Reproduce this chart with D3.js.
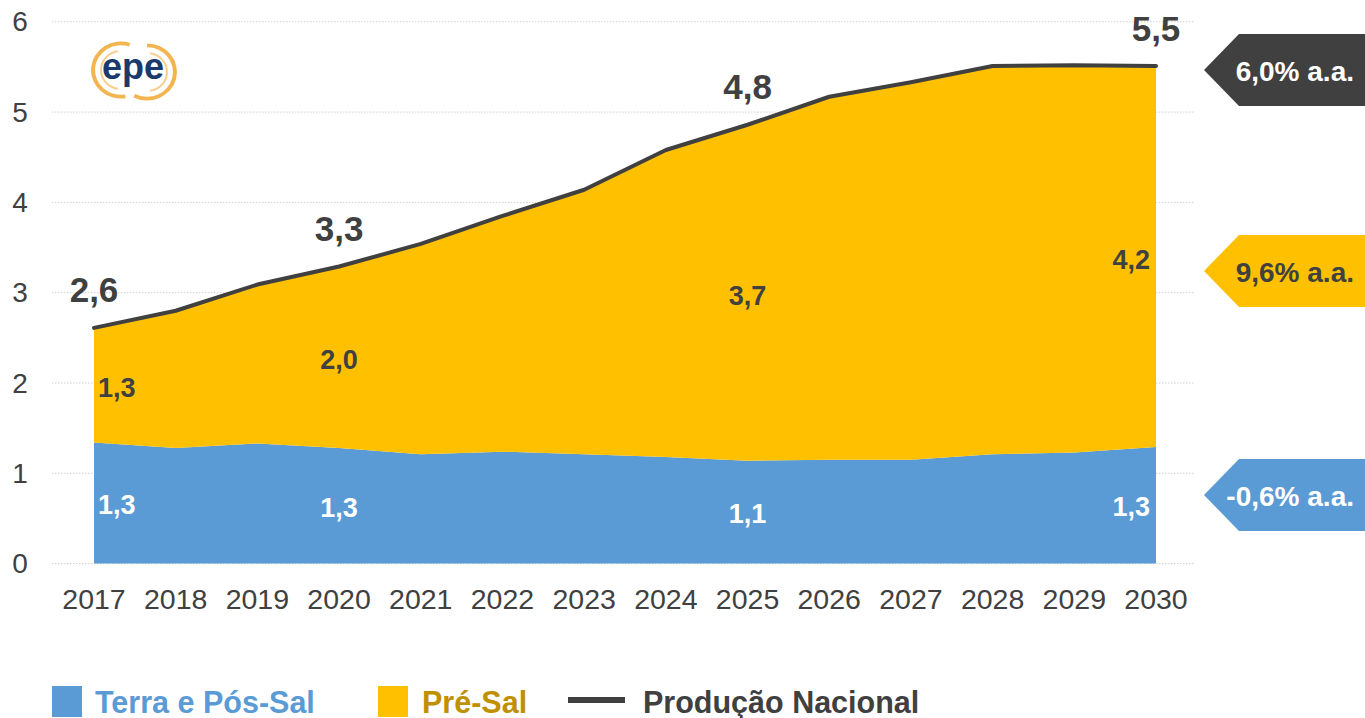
<!DOCTYPE html>
<html>
<head>
<meta charset="utf-8">
<script src="https://cdn.jsdelivr.net/npm/d3@7"></script>
<style>
  body { margin: 0; background: #fff; }
  text { font-family: "Liberation Sans", Arial, sans-serif; }
</style>
</head>
<body>
<div id="grafico"></div>
<script>
// dados (milhões de barris/dia)
const anos = [2017, 2018, 2019, 2020, 2021, 2022, 2023, 2024, 2025, 2026, 2027, 2028, 2029, 2030];
const terraPosSal = [1.34, 1.28, 1.33, 1.28, 1.21, 1.24, 1.21, 1.18, 1.14, 1.15, 1.15, 1.21, 1.23, 1.29];
const preSal = [1.27, 1.52, 1.76, 2.01, 2.33, 2.61, 2.93, 3.40, 3.72, 4.02, 4.18, 4.30, 4.29, 4.22];
const anosRotulo = [2017, 2020, 2025, 2030];
const rotTotal = ["2,6", "3,3", "4,8", "5,5"];
const rotTerra = ["1,3", "1,3", "1,1", "1,3"];
const rotPre = ["1,3", "2,0", "3,7", "4,2"];
const taxas = ["6,0% a.a.", "9,6% a.a.", "-0,6% a.a."];
const legenda = ["Terra e Pós-Sal", "Pré-Sal", "Produção Nacional"];
const yTicks = [0, 1, 2, 3, 4, 5, 6];

const largura = 1365, altura = 718;
const azul = "#5B9BD5", amarelo = "#FFC000", cinza = "#404040";

const svg = d3.select("#grafico").append("svg")
  .attr("width", largura).attr("height", altura);

const x = d3.scalePoint().domain(anos).range([94, 1156]);
const y = d3.scaleLinear().domain([0, 6]).range([563.6, 21.8]);

// grade pontilhada
svg.append("g").selectAll("line").data(yTicks).join("line")
  .attr("x1", 52).attr("x2", 1195)
  .attr("y1", d => y(d)).attr("y2", d => y(d))
  .attr("stroke", "#d0d0d0").attr("stroke-width", 1)
  .attr("stroke-dasharray", "1.5,1.5");

// eixo y
svg.append("g").selectAll("text").data(yTicks).join("text")
  .attr("x", 20).attr("y", d => y(d))
  .attr("text-anchor", "middle").attr("dominant-baseline", "central")
  .attr("font-size", 28).attr("fill", cinza)
  .text(d => d);

// eixo x
svg.append("g").selectAll("text").data(anos).join("text")
  .attr("x", d => x(d)).attr("y", 599)
  .attr("text-anchor", "middle").attr("dominant-baseline", "central")
  .attr("font-size", 28.5).attr("fill", cinza)
  .text(d => d);

// áreas empilhadas
const tabela = anos.map((a, i) => ({ ano: a, terra: terraPosSal[i], pre: preSal[i] }));
const pilha = d3.stack().keys(["terra", "pre"])(tabela);
const area = d3.area()
  .x(d => x(d.data.ano))
  .y0(d => y(d[0]))
  .y1(d => y(d[1]));

svg.append("g").selectAll("path").data(pilha).join("path")
  .attr("d", area)
  .attr("fill", (d, i) => i === 0 ? azul : amarelo);

// linha da produção nacional
const linha = d3.line()
  .x(d => x(d.data.ano))
  .y(d => y(d[1]));
svg.append("path")
  .datum(pilha[1])
  .attr("d", linha)
  .attr("fill", "none").attr("stroke", cinza)
  .attr("stroke-width", 4).attr("stroke-linejoin", "round").attr("stroke-linecap", "round");

// rótulos
const idx = anosRotulo.map(a => anos.indexOf(a));
const ancora = (k) => k === 0 ? "start" : (k === idx.length - 1 ? "end" : "middle");
const dx = (k) => k === 0 ? 4 : (k === idx.length - 1 ? -6 : 0);

svg.append("g").selectAll("text").data(idx).join("text")
  .attr("x", i => x(anos[i]))
  .attr("y", i => y(terraPosSal[i] + preSal[i]) - 38)
  .attr("text-anchor", "middle").attr("dominant-baseline", "central")
  .attr("font-size", 35).attr("font-weight", "bold").attr("fill", cinza)
  .text((i, k) => rotTotal[k]);

svg.append("g").selectAll("text").data(idx).join("text")
  .attr("x", (i, k) => x(anos[i]) + dx(k))
  .attr("y", i => y(terraPosSal[i] / 2) + 2)
  .attr("text-anchor", (i, k) => ancora(k)).attr("dominant-baseline", "central")
  .attr("font-size", 27).attr("font-weight", "bold").attr("fill", "#fff")
  .text((i, k) => rotTerra[k]);

svg.append("g").selectAll("text").data(idx).join("text")
  .attr("x", (i, k) => x(anos[i]) + dx(k))
  .attr("y", i => y(terraPosSal[i] + preSal[i] / 2) + 3)
  .attr("text-anchor", (i, k) => ancora(k)).attr("dominant-baseline", "central")
  .attr("font-size", 27).attr("font-weight", "bold").attr("fill", cinza)
  .text((i, k) => rotPre[k]);

// setas de taxa de crescimento
const setas = [
  { cy: 70, fundo: cinza, texto: "#fff" },
  { cy: 271, fundo: amarelo, texto: cinza },
  { cy: 495, fundo: azul, texto: "#fff" }
];
const gSetas = svg.append("g");
setas.forEach((s, i) => {
  const h = 36;
  gSetas.append("path")
    .attr("d", `M1204,${s.cy} L1239,${s.cy - h} L1370,${s.cy - h} L1370,${s.cy + h} L1239,${s.cy + h} Z`)
    .attr("fill", s.fundo);
  gSetas.append("text")
    .attr("x", 1354).attr("y", s.cy + 1)
    .attr("text-anchor", "end").attr("dominant-baseline", "central")
    .attr("font-size", 28).attr("font-weight", "bold").attr("fill", s.texto)
    .text(taxas[i]);
});

// legenda
const gLeg = svg.append("g");
gLeg.append("rect").attr("x", 52).attr("y", 686).attr("width", 30).attr("height", 31).attr("fill", azul);
gLeg.append("text").attr("x", 95).attr("y", 702).attr("dominant-baseline", "central")
  .attr("font-size", 30.5).attr("font-weight", "bold").attr("fill", azul).text(legenda[0]);
gLeg.append("rect").attr("x", 378).attr("y", 686).attr("width", 30).attr("height", 31).attr("fill", amarelo);
gLeg.append("text").attr("x", 422).attr("y", 702).attr("dominant-baseline", "central")
  .attr("font-size", 30.5).attr("font-weight", "bold").attr("fill", "#BF9000").text(legenda[1]);
gLeg.append("line").attr("x1", 568).attr("x2", 625).attr("y1", 700).attr("y2", 700)
  .attr("stroke", cinza).attr("stroke-width", 6);
gLeg.append("text").attr("x", 643).attr("y", 702).attr("dominant-baseline", "central")
  .attr("font-size", 30.5).attr("font-weight", "bold").attr("fill", cinza).text(legenda[2]);

// logotipo epe
const logo = svg.append("g").attr("transform", "translate(133,70)");
const arco = d3.arc();
const arcos = [
  { r0: 26, r1: 30, a0: -Math.PI * 1.05, a1: 0.1 * Math.PI, op: 0.85 },
  { r0: 19, r1: 21, a0: -Math.PI * 0.95, a1: -0.05 * Math.PI, op: 0.55 },
  { r0: 26, r1: 30, a0: Math.PI * 0.0, a1: Math.PI * 1.15, op: 0.85 },
  { r0: 19, r1: 21, a0: Math.PI * 0.05, a1: Math.PI * 0.95, op: 0.55 }
];
logo.selectAll("path").data(arcos).join("path")
  .attr("transform", (d, i) => i < 2 ? "translate(-12,0) scale(1,0.95)" : "translate(14,2) scale(1,0.95)")
  .attr("d", d => arco({ innerRadius: d.r0, outerRadius: d.r1, startAngle: d.a0, endAngle: d.a1 }))
  .attr("fill", "#F0A830").attr("opacity", d => d.op);
logo.append("text").attr("x", 0).attr("y", 9)
  .attr("text-anchor", "middle")
  .attr("font-size", 36).attr("font-weight", "bold").attr("fill", "#1B3A6B")
  .text("epe");
</script>
</body>
</html>
